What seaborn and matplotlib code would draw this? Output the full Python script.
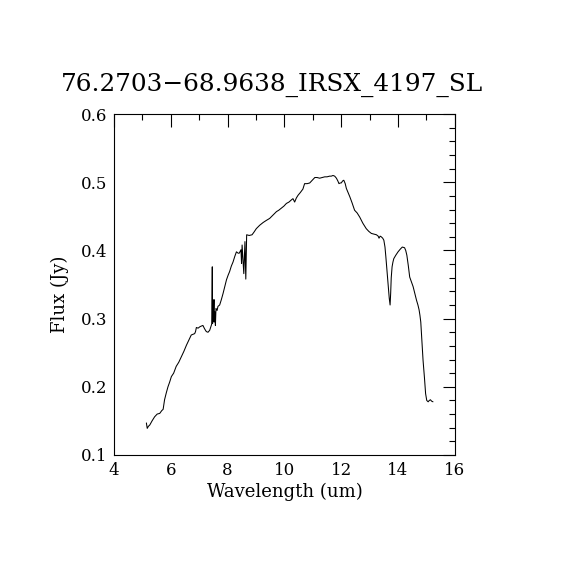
import numpy as np
import pandas as pd
import seaborn as sns
import matplotlib
matplotlib.use("Agg")
import matplotlib.pyplot as plt
from matplotlib.ticker import MultipleLocator

wavelength = [
    5.14, 5.17, 5.21, 5.26, 5.34, 5.43, 5.52, 5.61, 5.68, 5.73,
    5.78, 5.84, 5.90, 5.96, 6.02, 6.10, 6.19, 6.28, 6.37, 6.46,
    6.55, 6.63, 6.72, 6.78, 6.84, 6.87, 6.90, 6.96, 7.02, 7.07,
    7.13, 7.19, 7.25, 7.31, 7.37, 7.40, 7.44, 7.46, 7.47, 7.50,
    7.52, 7.53, 7.55, 7.57, 7.59, 7.63, 7.66, 7.72, 7.78, 7.84,
    7.90, 7.96, 8.02, 8.07, 8.13, 8.19, 8.25, 8.31, 8.37, 8.41,
    8.47, 8.49, 8.51, 8.57, 8.61, 8.64, 8.67, 8.76, 8.86, 8.93,
    9.01, 9.13, 9.25, 9.36, 9.48, 9.60, 9.72, 9.80, 9.89, 9.98,
    10.07, 10.16, 10.24, 10.30, 10.36, 10.42, 10.48, 10.56, 10.65, 10.71,
    10.80, 10.89, 10.98, 11.07, 11.15, 11.24, 11.33, 11.42, 11.50, 11.59,
    11.65, 11.71, 11.77, 11.83, 11.88, 11.92, 11.96, 12.00, 12.05, 12.09,
    12.14, 12.18, 12.24, 12.30, 12.38, 12.47, 12.56, 12.65, 12.76, 12.88,
    12.97, 13.06, 13.15, 13.24, 13.30, 13.33, 13.37, 13.41, 13.46, 13.50,
    13.54, 13.57, 13.61, 13.65, 13.69, 13.72, 13.74, 13.76, 13.79, 13.82,
    13.85, 13.92, 14.00, 14.08, 14.15, 14.23, 14.27, 14.31, 14.36, 14.41,
    14.47, 14.53, 14.59, 14.65, 14.70, 14.74, 14.77, 14.80, 14.84, 14.88,
    14.93, 14.97, 15.01, 15.06, 15.10, 15.14, 15.18, 15.23,
]
flux = [
    0.147, 0.139, 0.142, 0.144, 0.150, 0.156, 0.160, 0.161, 0.165, 0.167,
    0.181, 0.191, 0.200, 0.207, 0.215, 0.220, 0.230, 0.236, 0.244, 0.252,
    0.261, 0.268, 0.276, 0.277, 0.278, 0.281, 0.287, 0.286, 0.288, 0.289,
    0.290, 0.285, 0.281, 0.280, 0.283, 0.287, 0.292, 0.376, 0.293, 0.300,
    0.328, 0.295, 0.310, 0.290, 0.315, 0.312, 0.318, 0.320, 0.328, 0.337,
    0.347, 0.357, 0.364, 0.369, 0.377, 0.383, 0.391, 0.398, 0.396, 0.396,
    0.401, 0.381, 0.408, 0.366, 0.413, 0.358, 0.423, 0.422, 0.423, 0.427,
    0.432, 0.437, 0.441, 0.444, 0.447, 0.452, 0.457, 0.459, 0.462, 0.465,
    0.469, 0.471, 0.474, 0.476, 0.471, 0.477, 0.481, 0.485, 0.490, 0.498,
    0.498, 0.499, 0.503, 0.507, 0.507, 0.506, 0.507, 0.508, 0.508, 0.509,
    0.509, 0.510, 0.509, 0.506, 0.502, 0.498, 0.499, 0.499, 0.502, 0.503,
    0.498, 0.491, 0.485, 0.479, 0.470, 0.459, 0.455, 0.449, 0.440, 0.432,
    0.428, 0.425, 0.424, 0.423, 0.421, 0.418, 0.421, 0.420, 0.418, 0.415,
    0.405, 0.391, 0.370, 0.347, 0.330, 0.320, 0.337, 0.360, 0.376, 0.383,
    0.388, 0.393, 0.398, 0.402, 0.405, 0.404, 0.400, 0.393, 0.378, 0.361,
    0.354, 0.347, 0.337, 0.327, 0.320, 0.313, 0.305, 0.295, 0.268, 0.239,
    0.213, 0.190, 0.180, 0.178, 0.180, 0.181, 0.179, 0.178,
]

titulo = "76.2703\u221268.9638_IRSX_4197_SL"

df = pd.DataFrame({"wavelength": wavelength, "flux": flux})

sns.set_style("white")
plt.rcParams["font.family"] = ["DejaVu Serif", "DejaVu Sans"]

fig = plt.figure(figsize=(5.7, 5.7), dpi=100)
ax = fig.add_axes([0.2, 0.2018, 0.598, 0.598])

sns.lineplot(data=df, x="wavelength", y="flux", sort=False, estimator=None,
             color="black", linewidth=0.75, ax=ax)

ax.set_xlim(4, 16)
ax.set_ylim(0.1, 0.6)
ax.xaxis.set_major_locator(MultipleLocator(2))
ax.xaxis.set_minor_locator(MultipleLocator(1))
ax.yaxis.set_major_locator(MultipleLocator(0.1))
ax.yaxis.set_minor_locator(MultipleLocator(0.02))
ax.yaxis.set_major_formatter(plt.FuncFormatter(lambda v, p: f"{v:.1f}"))
ax.tick_params(which="both", direction="in", top=True, right=True,
               color="black", width=0.8, labelsize=12, labelcolor="black")
ax.tick_params(which="major", length=9, pad=5)
ax.tick_params(which="minor", length=4.5)
for s in ax.spines.values():
    s.set_color("black")
    s.set_linewidth(0.8)

ax.set_xlabel("Wavelength (um)", fontsize=13, color="black", labelpad=3)
ax.set_ylabel("Flux (Jy)", fontsize=13, color="black")
ax.yaxis.set_label_coords(-0.132, 0.472)
fig.text(272 / 570, 1 - 85 / 570, titulo, ha="center", va="center",
         fontsize=17.8, color="black")

fig.savefig("out.png", dpi=100, facecolor="white")
